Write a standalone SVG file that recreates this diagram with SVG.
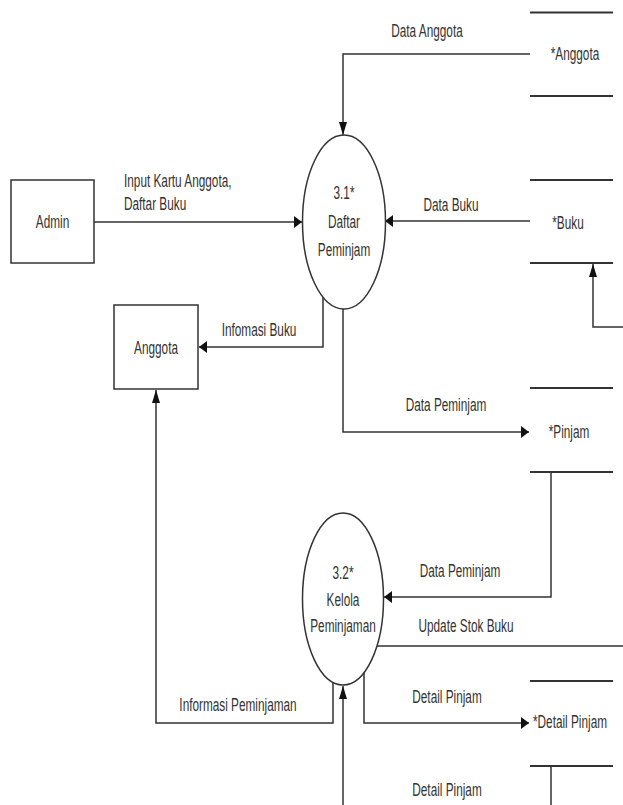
<svg xmlns="http://www.w3.org/2000/svg" width="623" height="805" viewBox="0 0 623 805">
<style>
text{font-family:"Liberation Sans",Arial,sans-serif;font-size:11.8px;fill:#333}
.m{text-anchor:middle}
.box{fill:#fff;stroke:#333;stroke-width:1.5}
.proc{fill:#fff;stroke:#333;stroke-width:1.5}
.st{stroke:#333;stroke-width:2;fill:none}
.c{fill:none;stroke:#333;stroke-width:1.5}
.ch{marker-end:url(#ah)}
.cv{marker-end:url(#av)}
</style>
<defs>
<marker id="ah" markerUnits="userSpaceOnUse" markerWidth="9" markerHeight="12" refX="8" refY="6" orient="auto" viewBox="0 0 9 12"><path d="M0,0 L8,6 L0,12 z" fill="#111"/></marker>
<marker id="av" markerUnits="userSpaceOnUse" markerWidth="14" markerHeight="8" refX="13" refY="4" orient="auto" viewBox="0 0 14 8"><path d="M0,0 L13,4 L0,8 z" fill="#111"/></marker>
</defs>
<rect width="623" height="805" fill="#fff"/>

<g id="connectors">
<path class="c cv" d="M530,54 H343 V135"/>
<path class="c ch" d="M94,222 H302"/>
<path class="c ch" d="M530,221 H385"/>
<path class="c ch" d="M323,297 V347 H199"/>
<path class="c ch" d="M343,309 V432 H529"/>
<path class="c ch" d="M551,472 V597 H384"/>
<path class="c cv" d="M377,646 H640 V327 H593 V264"/>
<path class="c cv" d="M333,682 V723 H156 V390"/>
<path class="c ch" d="M364,672 V723 H529"/>
<path class="c cv" d="M551,766 V830 H343 V686"/>
<text transform="translate(427,36.5) scale(1,1.55)" class="m">Data Anggota</text>
<text transform="translate(124,187) scale(1,1.55)">Input Kartu Anggota,</text>
<text transform="translate(124,210) scale(1,1.55)">Daftar Buku</text>
<text transform="translate(451,211) scale(1,1.55)" class="m">Data Buku</text>
<text transform="translate(259,335.5) scale(1,1.55)" class="m">Infomasi Buku</text>
<text transform="translate(446,411) scale(1,1.55)" class="m">Data Peminjam</text>
<text transform="translate(460,577) scale(1,1.55)" class="m">Data Peminjam</text>
<text transform="translate(466,632) scale(1,1.55)" class="m">Update Stok Buku</text>
<text transform="translate(447,703) scale(1,1.55)" class="m">Detail Pinjam</text>
<text transform="translate(238,711) scale(1,1.55)" class="m">Informasi Peminjaman</text>
<text transform="translate(447,796) scale(1,1.55)" class="m">Detail Pinjam</text>
</g>

<g id="store-anggota">
<line class="st" x1="530" y1="12.5" x2="613" y2="12.5"/>
<line class="st" x1="530" y1="96" x2="613" y2="96"/>
<text transform="translate(575,59.5) scale(1,1.55)" class="m">*Anggota</text>
</g>

<g id="admin">
<rect class="box" x="11" y="180" width="83" height="83"/>
<text transform="translate(52.5,228) scale(1,1.55)" class="m">Admin</text>
</g>

<g id="proc-3-1">
<ellipse class="proc" cx="344" cy="222" rx="41.5" ry="87"/>
<text transform="translate(344,198.5) scale(1,1.55)" class="m">3.1*</text>
<text transform="translate(344,227.5) scale(1,1.55)" class="m">Daftar</text>
<text transform="translate(344,255.5) scale(1,1.55)" class="m">Peminjam</text>
</g>

<g id="store-buku">
<line class="st" x1="530" y1="180" x2="613" y2="180"/>
<line class="st" x1="530" y1="263" x2="613" y2="263"/>
<text transform="translate(568,229) scale(1,1.55)" class="m">*Buku</text>
</g>

<g id="anggota">
<rect class="box" x="114" y="305" width="84" height="84"/>
<text transform="translate(156,353.5) scale(1,1.55)" class="m">Anggota</text>
</g>

<g id="store-pinjam">
<line class="st" x1="530" y1="388" x2="613" y2="388"/>
<line class="st" x1="530" y1="472" x2="613" y2="472"/>
<text transform="translate(569,438) scale(1,1.55)" class="m">*Pinjam</text>
</g>

<g id="proc-3-2">
<ellipse class="proc" cx="343" cy="599" rx="40.5" ry="86"/>
<text transform="translate(343,578.5) scale(1,1.55)" class="m">3.2*</text>
<text transform="translate(343,605.5) scale(1,1.55)" class="m">Kelola</text>
<text transform="translate(343,632) scale(1,1.55)" class="m">Peminjaman</text>
</g>

<g id="store-detail-pinjam">
<line class="st" x1="530" y1="681" x2="613" y2="681"/>
<line class="st" x1="530" y1="766" x2="613" y2="766"/>
<text transform="translate(570,728) scale(1,1.55)" class="m">*Detail Pinjam</text>
</g>
</svg>
